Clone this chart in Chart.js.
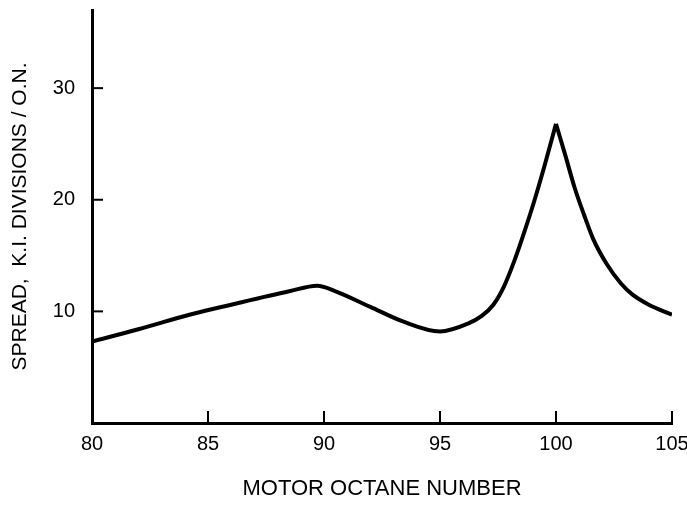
<!DOCTYPE html>
<html>
<head>
<meta charset="utf-8">
<script src="https://cdn.jsdelivr.net/npm/chart.js@4/dist/chart.umd.min.js"></script>
<style>
  html, body { margin: 0; padding: 0; background: #fff; }
  #wrap { width: 687px; height: 506px; }
</style>
</head>
<body>
<div id="wrap"><canvas id="spreadChart"></canvas></div>
<script>
// values
var octane = [80, 82, 84.2, 86, 88.5, 89.7, 90.5, 92, 93.4, 95, 96.2, 96.8, 97.3, 97.75, 98.2, 98.6, 99.05, 99.5, 100, 100.4, 100.8, 101.2, 101.6, 102.2, 102.8, 103.3, 104, 105];
var spread = [7.3, 8.4, 9.7, 10.6, 11.8, 12.3, 11.8, 10.4, 9.1, 8.2, 8.9, 9.6, 10.6, 12.2, 14.5, 16.9, 19.8, 23.0, 26.8, 24.0, 21.1, 18.7, 16.5, 14.2, 12.5, 11.5, 10.6, 9.7];
var xTicks = [80, 85, 90, 95, 100, 105];
var yTicks = [10, 20, 30];

// split at the sharp peak so it stays a cusp
var peak = spread.indexOf(Math.max.apply(null, spread));
function pts(a, b) {
  var out = [];
  for (var i = a; i <= b; i++) out.push({x: octane[i], y: spread[i]});
  return out;
}

var lineStyle = {
  borderColor: '#000',
  borderWidth: 4,
  pointRadius: 0,
  fill: false,
  cubicInterpolationMode: 'monotone'
};

// short inward tick marks
var innerTicks = {
  id: 'innerTicks',
  afterDraw: function(chart) {
    var ctx = chart.ctx, xs = chart.scales.x, ys = chart.scales.y;
    var a = chart.chartArea;
    ctx.save();
    ctx.strokeStyle = '#000';
    ctx.lineWidth = 2;
    xTicks.forEach(function(v) {
      var px = xs.getPixelForValue(v);
      ctx.beginPath();
      ctx.moveTo(px, a.bottom);
      ctx.lineTo(px, a.bottom - 12);
      ctx.stroke();
    });
    yTicks.forEach(function(v) {
      var py = ys.getPixelForValue(v);
      ctx.beginPath();
      ctx.moveTo(a.left, py);
      ctx.lineTo(a.left + 11, py);
      ctx.stroke();
    });
    ctx.restore();
  }
};

Chart.defaults.font.family = '"Liberation Sans", Arial, sans-serif';
Chart.defaults.color = '#000';

var chart = new Chart(document.getElementById('spreadChart'), {
  type: 'line',
  data: {
    datasets: [
      Object.assign({data: pts(0, peak)}, lineStyle),
      Object.assign({data: pts(peak, octane.length - 1)}, lineStyle)
    ]
  },
  options: {
    responsive: true,
    maintainAspectRatio: false,
    animation: false,
    layout: { padding: { left: 0, top: 10, right: 15, bottom: 0 } },
    plugins: {
      legend: { display: false },
      tooltip: { enabled: false }
    },
    scales: {
      x: {
        type: 'linear',
        min: 80,
        max: 105,
        afterBuildTicks: function(s) { s.ticks = xTicks.map(function(v) { return {value: v}; }); },
        afterFit: function(s) { s.height = 83; s.paddingLeft = 0; s.paddingRight = 0; },
        grid: { display: false, drawTicks: false },
        border: { display: true, color: '#000', width: 3 },
        ticks: { padding: 9, font: { size: 20 }, maxRotation: 0 },
        title: {
          display: true,
          text: 'MOTOR OCTANE NUMBER',
          font: { size: 22 },
          padding: { top: 20 }
        }
      },
      y: {
        min: 0,
        max: 37,
        afterBuildTicks: function(s) { s.ticks = yTicks.map(function(v) { return {value: v}; }); },
        afterFit: function(s) { s.width = 92; s.paddingTop = 0; s.paddingBottom = 0; },
        grid: { display: false, drawTicks: false },
        border: { display: true, color: '#000', width: 3 },
        ticks: { padding: 17, font: { size: 20 } },
        title: {
          display: true,
          text: 'SPREAD,  K.I. DIVISIONS / O.N.',
          font: { size: 21 },
          padding: { top: 8, bottom: 4 }
        }
      }
    }
  },
  plugins: [innerTicks]
});
</script>
</body>
</html>
